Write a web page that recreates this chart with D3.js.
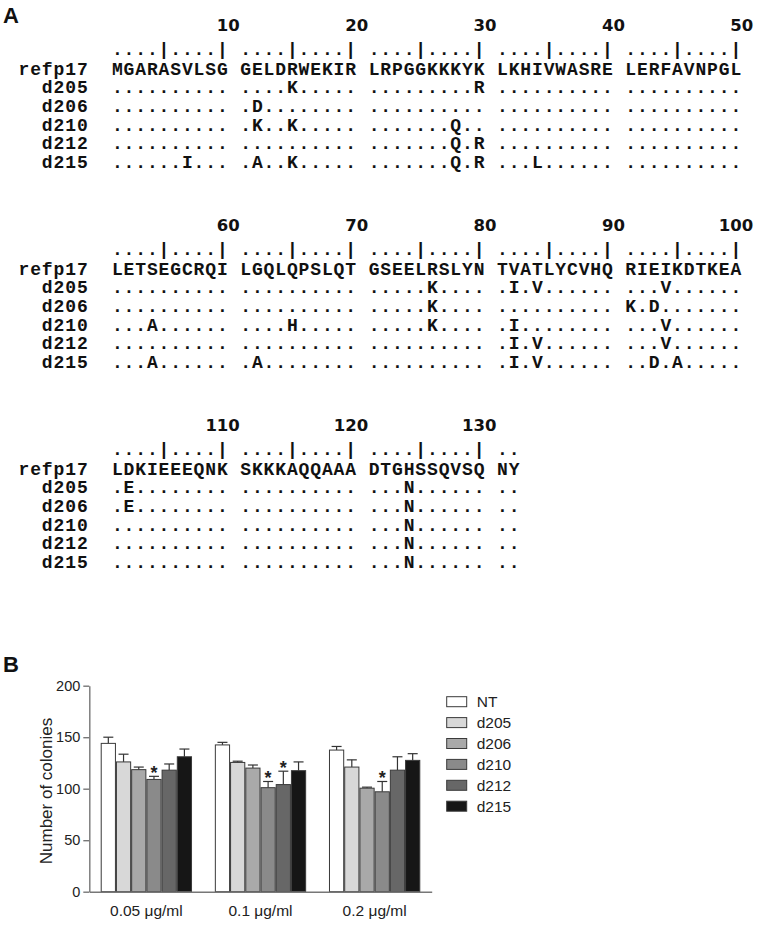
<!DOCTYPE html>
<html><head><meta charset="utf-8">
<script src="https://cdn.jsdelivr.net/npm/d3@7"></script>
<style>body{margin:0;background:#fff} svg{display:block}</style>
</head><body>
<svg id="c" width="762" height="927"></svg>
<script>
// ---------- Panel A data ----------
const refName = "refp17";
const refBlocks = ["MGARASVLSG","GELDRWEKIR","LRPGGKKKYK","LKHIVWASRE","LERFAVNPGL",
                   "LETSEGCRQI","LGQLQPSLQT","GSEELRSLYN","TVATLYCVHQ","RIEIKDTKEA",
                   "LDKIEEEQNK","SKKKAQQAAA","DTGHSSQVSQ","NY"];
const variantNames = ["d205","d206","d210","d212","d215"];
const mutD205 = ["R15K","K30R","R76K","V82I","T84V","I94V","D102E","H124N"];
const mutD206 = ["E12D","R76K","R91K","E93D","D102E","H124N"];
const mutD210 = ["E12K","R15K","K28Q","S54A","Q65H","R76K","V82I","I94V","H124N"];
const mutD212 = ["K28Q","K30R","V82I","T84V","I94V","H124N"];
const mutD215 = ["V7I","E12A","R15K","K28Q","K30R","I34L","S54A","G62A","V82I","T84V","E93D","K95A","H124N"];
const variantMutations = [mutD205, mutD206, mutD210, mutD212, mutD215];

// ---------- Panel B data ----------
const groups = ["0.05 μg/ml","0.1 μg/ml","0.2 μg/ml"];
const series = ["NT","d205","d206","d210","d212","d215"];
const meanNT   = [144, 142.5, 137.5];
const meanD205 = [126, 125.5, 121];
const meanD206 = [118.5, 120, 100.5];
const meanD210 = [109, 101, 97];
const meanD212 = [118, 104, 118];
const meanD215 = [131, 117.5, 127.5];
const errNT   = [6, 2.5, 3.5];
const errD205 = [7.5, 1.2, 7];
const errD206 = [2.5, 3, 1];
const errD210 = [3, 6, 10];
const errD212 = [6, 13, 13];
const errD215 = [7.5, 8.5, 6.5];
const yTicks = [0, 50, 100, 150, 200];
const starMarks = [[0,"d210"],[1,"d210"],[1,"d212"],[2,"d210"]];
const yLabel = "Number of colonies";

// ---------- styles ----------
const seriesFill = ["#ffffff","#d8d8d8","#a9a9a9","#8a8a8a","#676767","#161616"];
const monoFont = "'Courier New','Liberation Mono',monospace";
const sansFont = "Arial,'Liberation Sans',Helvetica,sans-serif";

const svg = d3.select("#c");
svg.append("rect").attr("width",762).attr("height",927).attr("fill","#fff");

// panel letters
svg.append("text").attr("x",3).attr("y",23).text("A")
  .attr("font-family",sansFont).attr("font-weight","bold").attr("font-size",22).attr("fill","#111");
svg.append("text").attr("x",3).attr("y",671.5).text("B")
  .attr("font-family",sansFont).attr("font-weight","bold").attr("font-size",22).attr("fill","#111");

// ---------- alignment ----------
const colX = d3.scaleLinear().domain([0, 1]).range([117.3, 117.3 + 11.67]);
const refSeq = refBlocks.join("");
const total = refSeq.length;
const perSet = 50;
const nSets = Math.ceil(total / perSet);

function parseMut(list) {
  const m = {};
  list.forEach(s => { const pos = +s.slice(1, -1); m[pos] = s.slice(-1); });
  return m;
}
const mutMaps = variantMutations.map(parseMut);

function buildString(start, end, fn) {
  let s = "";
  for (let p = start; p <= end; p++) {
    const j = p - start;
    if (j > 0 && j % 10 === 0) s += " ";
    s += fn(p);
  }
  return s;
}
function xList(str, startCol) {
  return str.split("").map((c, k) => colX(startCol + k).toFixed(2)).join(" ");
}
function monoText(str, startCol, y, weight) {
  svg.append("text")
    .attr("x", xList(str, startCol))
    .attr("y", y)
    .attr("text-anchor", "middle")
    .attr("font-family", monoFont)
    .attr("font-weight", weight || "bold")
    .attr("font-size", 18)
    .attr("fill", "#111")
    .attr("xml:space", "preserve")
    .text(str);
}

const rowGap = 18.7;
for (let s = 0; s < nSets; s++) {
  const y0 = s * 200;
  const start = s * perSet + 1;
  const end = Math.min(total, start + perSet - 1);
  // position numbers
  for (let p = start; p <= end; p++) {
    if (p % 10 === 0) {
      const j = p - start;
      const col = j + Math.floor(j / 10);
      svg.append("text")
        .attr("x", colX(col) + 17.5)
        .attr("y", 31 + y0)
        .attr("text-anchor", "end")
        .attr("font-family", "'DejaVu Sans',Verdana,sans-serif")
        .attr("font-weight", "bold")
        .attr("font-size", 16.5)
        .attr("fill", "#111")
        .text(p);
    }
  }
  // ruler
  const ruler = buildString(start, end, p => (p % 5 === 0 ? "|" : "."));
  monoText(ruler, 0, 54.5 + y0);
  // reference row
  const rowY = 74.5 + y0;
  monoText(refName, -2 - refName.length, rowY);
  monoText(buildString(start, end, p => refSeq[p - 1]), 0, rowY);
  // variant rows
  variantNames.forEach((name, r) => {
    const yy = rowY + (r + 1) * rowGap;
    monoText(name, -2 - name.length, yy);
    const mm = mutMaps[r];
    monoText(buildString(start, end, p => mm[p] || "."), 0, yy);
  });
}

// ---------- bar chart ----------
const means = [meanNT, meanD205, meanD206, meanD210, meanD212, meanD215];
const errs  = [errNT, errD205, errD206, errD210, errD212, errD215];
const y = d3.scaleLinear().domain([0, 200]).range([891.7, 685.7]);
const x0 = d3.scaleBand().domain(groups).range([89.3, 431.7]).paddingInner(0.2).paddingOuter(0.1);
const x1 = d3.scaleBand().domain(series).range([0, x0.bandwidth()]).padding(0);
const color = d3.scaleOrdinal().domain(series).range(seriesFill);

const data = [];
groups.forEach((g, gi) => series.forEach((s, si) => {
  data.push({ g, s, v: means[si][gi], e: errs[si][gi] });
}));

const chart = svg.append("g");
const barG = chart.selectAll("g.bar").data(data).enter().append("g");
barG.append("line")
  .attr("x1", d => x0(d.g) + x1(d.s) + x1.bandwidth() / 2)
  .attr("x2", d => x0(d.g) + x1(d.s) + x1.bandwidth() / 2)
  .attr("y1", d => y(d.v)).attr("y2", d => y(d.v + d.e))
  .attr("stroke", "#333").attr("stroke-width", 1.2);
barG.append("line")
  .attr("x1", d => x0(d.g) + x1(d.s) + x1.bandwidth() / 2 - 5)
  .attr("x2", d => x0(d.g) + x1(d.s) + x1.bandwidth() / 2 + 5)
  .attr("y1", d => y(d.v + d.e)).attr("y2", d => y(d.v + d.e))
  .attr("stroke", "#333").attr("stroke-width", 1.2);
barG.append("rect")
  .attr("x", d => x0(d.g) + x1(d.s) + 0.5)
  .attr("width", x1.bandwidth() - 1)
  .attr("y", d => y(d.v))
  .attr("height", d => y(0) - y(d.v))
  .attr("fill", d => color(d.s))
  .attr("stroke", "#3a3a3a").attr("stroke-width", 1);

// stars
starMarks.forEach(([gi, s]) => {
  const d = data.find(v => v.g === groups[gi] && v.s === s);
  chart.append("text")
    .attr("x", x0(d.g) + x1(d.s) + x1.bandwidth() / 2)
    .attr("y", y(d.v + d.e) + 3)
    .attr("text-anchor", "middle")
    .attr("font-family", sansFont).attr("font-weight", "bold").attr("font-size", 18).attr("fill", "#222")
    .text("*");
});

// axes
const yAxis = chart.append("g").attr("transform", "translate(89.3,0)")
  .call(d3.axisLeft(y).tickValues(yTicks).tickSize(6).tickSizeOuter(0).tickPadding(3));
yAxis.select(".domain").attr("stroke", "#777").attr("stroke-width", 1.4);
yAxis.selectAll(".tick line").attr("stroke", "#777").attr("stroke-width", 1.4);
yAxis.selectAll(".tick text").attr("font-family", sansFont).attr("font-size", 14.5).attr("fill", "#222");

const xAxis = chart.append("g").attr("transform", "translate(0,891.7)")
  .call(d3.axisBottom(x0).tickSize(0).tickSizeOuter(0).tickPadding(13));
xAxis.select(".domain").attr("stroke", "#777").attr("stroke-width", 1.4);
xAxis.selectAll(".tick text").attr("font-family", sansFont).attr("font-size", 15.5).attr("fill", "#222");

chart.append("text")
  .attr("transform", "translate(52,791) rotate(-90)")
  .attr("text-anchor", "middle")
  .attr("font-family", sansFont).attr("font-size", 17).attr("fill", "#222")
  .text(yLabel);

// legend
const leg = chart.append("g");
series.forEach((s, i) => {
  const cy = 701.7 + i * 20.9;
  leg.append("rect").attr("x", 446.7).attr("y", cy - 5).attr("width", 20).attr("height", 10)
    .attr("fill", color(s)).attr("stroke", "#3a3a3a").attr("stroke-width", 1);
  leg.append("text").attr("x", 476.7).attr("y", cy).attr("dy", "0.36em")
    .attr("font-family", sansFont).attr("font-size", 15.5).attr("fill", "#222").text(s);
});
</script>
</body></html>
